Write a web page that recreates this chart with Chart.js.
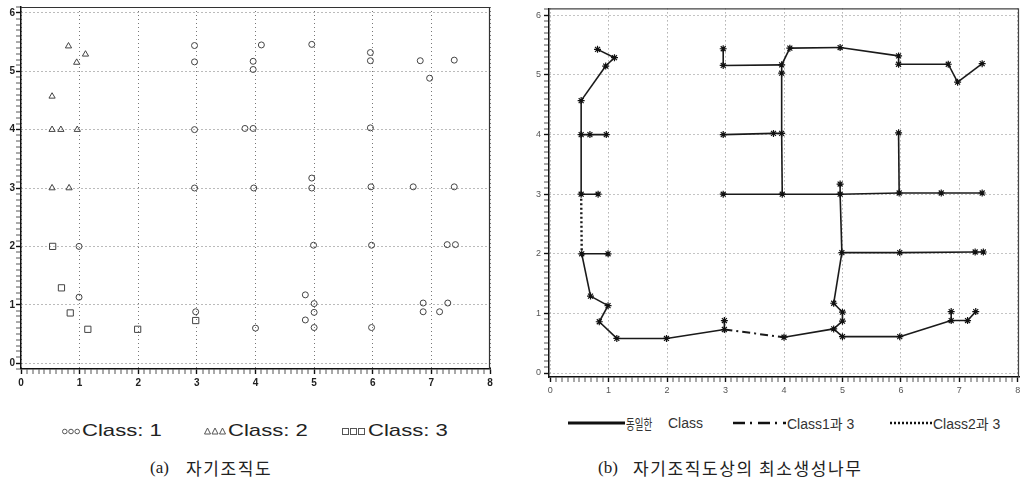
<!DOCTYPE html>
<html><head><meta charset="utf-8">
<script src="https://cdn.jsdelivr.net/npm/chart.js@4.4.1/dist/chart.umd.min.js"></script>
<style>
html,body{margin:0;padding:0;background:#fff;width:1026px;height:487px;overflow:hidden;position:relative;font-family:"Liberation Sans",Arial,sans-serif;}
canvas{position:absolute;}
#ca{left:0;top:0;}
#cb{left:520px;top:0;}
.it{position:absolute;height:18px;line-height:18px;white-space:nowrap;color:#222;display:flex;align-items:center;}
.it svg{display:block;margin-right:2px;}
.wide{display:inline-block;transform:scaleX(1.3);transform-origin:left center;font-size:17px;}
.lt{position:absolute;height:18px;line-height:18px;white-space:nowrap;color:#333;font-size:14px;}
.ko{font-family:"Noto Sans CJK KR",sans-serif;}
.nar{display:inline-block;transform:scaleX(0.68);transform-origin:left center;}
.cap{position:absolute;top:457px;height:22px;line-height:22px;white-space:nowrap;color:#222;font-size:17px;}
.cap .p{font-family:"Liberation Serif","DejaVu Serif",serif;}
.cap .k{font-family:"Noto Sans CJK KR",sans-serif;letter-spacing:1.6px;}
</style></head><body>
<canvas id="ca" width="500" height="395"></canvas>
<canvas id="cb" width="506" height="400"></canvas>

<div class="it" style="left:62px;top:422px;">
  <svg width="18" height="9"><circle cx="2.8" cy="4.5" r="2.3" fill="none" stroke="#555" stroke-width="1"/><circle cx="9" cy="4.5" r="2.3" fill="none" stroke="#555" stroke-width="1"/><circle cx="15.2" cy="4.5" r="2.3" fill="none" stroke="#555" stroke-width="1"/></svg>
  <span class="wide">Class: 1</span>
</div>
<div class="it" style="left:204px;top:422px;">
  <svg width="22" height="9"><polygon points="3.5,1 6.5,7 0.5,7" fill="none" stroke="#555" stroke-width="1"/><polygon points="11,1 14,7 8,7" fill="none" stroke="#555" stroke-width="1"/><polygon points="18.5,1 21.5,7 15.5,7" fill="none" stroke="#555" stroke-width="1"/></svg>
  <span class="wide">Class: 2</span>
</div>
<div class="it" style="left:342px;top:422px;">
  <svg width="24" height="9"><rect x="0.5" y="1.5" width="6" height="6" fill="none" stroke="#555" stroke-width="1"/><rect x="8.5" y="1.5" width="6" height="6" fill="none" stroke="#555" stroke-width="1"/><rect x="16.5" y="1.5" width="6" height="6" fill="none" stroke="#555" stroke-width="1"/></svg>
  <span class="wide">Class: 3</span>
</div>

<svg style="position:absolute;left:560px;top:414px;" width="440" height="18">
  <line x1="8" y1="9" x2="65" y2="9" stroke="#111" stroke-width="3"/>
  <line x1="173" y1="9" x2="226" y2="9" stroke="#111" stroke-width="2.5" stroke-dasharray="12,5,2,6"/>
  <line x1="330" y1="9" x2="372" y2="9" stroke="#111" stroke-width="2.5" stroke-dasharray="2,2"/>
</svg>
<div class="lt" style="left:626px;top:414px;"><span class="ko nar">동일한</span></div>
<div class="lt" style="left:668px;top:414px;">Class</div>
<div class="lt" style="left:787px;top:414px;">Class1<span class="ko">과</span> 3</div>
<div class="lt" style="left:933px;top:414px;">Class2<span class="ko">과</span> 3</div>

<div class="cap" style="left:150px;"><span class="p">(a)</span></div>
<div class="cap" style="left:186px;"><span class="k">자기조직도</span></div>
<div class="cap" style="left:598px;"><span class="p">(b)</span></div>
<div class="cap" style="left:633px;"><span class="k">자기조직도상의 최소생성나무</span></div>

<script>
// ---- data ----
const xTickLabels = [0, 1, 2, 3, 4, 5, 6, 7, 8];
const yTickLabels = [0, 1, 2, 3, 4, 5, 6];
const classNames = ['Class: 1', 'Class: 2', 'Class: 3'];
const edgeKindNames = ['동일한 Class', 'Class1과 3', 'Class2과 3'];

// SOM nodes (map coordinates) and their class
const nodeX = [0.81, 1.10, 0.95, 0.53, 0.53, 0.68, 0.96, 0.53, 0.82,
               0.54, 0.99, 0.69, 0.99, 0.84, 1.14, 1.99, 2.98, 2.98,
               4.00, 4.85, 5.00, 5.00, 5.00, 4.85, 4.99, 5.98, 7.27, 7.41,
               5.98, 6.86, 6.86, 7.14, 7.28,
               2.96, 3.97, 4.96, 4.96, 5.97, 6.69, 7.39, 5.96,
               2.96, 3.82, 3.96,
               2.96, 2.96, 3.96, 4.10, 4.96, 5.96, 5.96, 6.81, 6.97, 7.39, 3.96];
const nodeY = [5.43, 5.29, 5.15, 4.57, 4.00, 4.00, 4.00, 3.00, 3.00,
               2.00, 2.00, 1.29, 1.13, 0.86, 0.58, 0.58, 0.73, 0.88,
               0.60, 0.74, 0.61, 0.87, 1.02, 1.17, 2.02, 2.02, 2.03, 2.03,
               0.61, 0.88, 1.03, 0.88, 1.03,
               3.00, 3.00, 3.00, 3.17, 3.02, 3.02, 3.02, 4.03,
               4.00, 4.02, 4.02,
               5.16, 5.44, 5.17, 5.45, 5.46, 5.32, 5.18, 5.18, 4.88, 5.19, 5.03];
const nodeClass = [2, 2, 2, 2, 2, 2, 2, 2, 2,
                   3, 1, 3, 1, 3, 3, 3, 3, 1,
                   1, 1, 1, 1, 1, 1, 1, 1, 1, 1,
                   1, 1, 1, 1, 1,
                   1, 1, 1, 1, 1, 1, 1, 1,
                   1, 1, 1,
                   1, 1, 1, 1, 1, 1, 1, 1, 1, 1, 1];

// minimum spanning tree edges (node index pairs) and edge kind
const edgeFrom = [0, 1, 2, 3, 4, 5, 4, 7,
                  9, 9, 11, 12, 13, 14, 15, 16,
                  18, 19, 19, 21, 22, 23, 20, 28, 29, 29, 31,
                  24, 25, 26, 24,
                  33, 34, 35, 35, 37, 38, 37,
                  41, 42, 46, 54, 43,
                  44, 44, 46, 47, 48, 49, 50, 51, 52,
                  7, 16];
const edgeTo   = [1, 2, 3, 4, 5, 6, 7, 8,
                  10, 11, 12, 13, 14, 15, 16, 17,
                  19, 20, 21, 22, 23, 24, 28, 29, 30, 31, 32,
                  25, 26, 27, 35,
                  34, 35, 36, 37, 38, 39, 40,
                  42, 43, 54, 43, 34,
                  45, 46, 47, 48, 49, 50, 51, 52, 53,
                  9, 18];
const edgeKind = [0, 0, 0, 0, 0, 0, 0, 0,
                  0, 0, 0, 0, 0, 0, 0, 0,
                  0, 0, 0, 0, 0, 0, 0, 0, 0, 0, 0,
                  0, 0, 0, 0,
                  0, 0, 0, 0, 0, 0, 0,
                  0, 0, 0, 0, 0,
                  0, 0, 0, 0, 0, 0, 0, 0, 0,
                  2, 1];

// ---- helpers ----
Chart.defaults.font.family = '"Liberation Sans", Arial, sans-serif';
const isMajor = v => Math.abs(v - Math.round(v)) < 1e-6;
const isTenth = v => Math.abs(v * 10 - Math.round(v * 10)) < 1e-6;

function makeAxis(o) {
  return {
    type: 'linear', min: o.min, max: o.max,
    afterFit: s => { if (o.horizontal) s.height = o.size; else s.width = o.size; },
    ticks: {
      stepSize: 0.1, autoSkip: false, includeBounds: false, maxRotation: 0, minRotation: 0, padding: o.pad,
      color: o.labelColor, font: { size: o.fontSize, weight: o.fontWeight },
      callback: v => (isMajor(v) && o.labels.includes(Math.round(v))) ? String(Math.round(v)) : ''
    },
    grid: {
      color: o.gridColor,
      lineWidth: c => (c.tick && isMajor(c.tick.value) && o.labels.includes(Math.round(c.tick.value))) ? 1 : 0,
      drawTicks: true, tickLength: o.tickLen,
      tickColor: c => !c.tick ? '#111' : (isMajor(c.tick.value) ? '#111' : (isTenth(c.tick.value) ? '#555' : 'rgba(0,0,0,0)')),
      tickWidth: c => (c.tick && isMajor(c.tick.value)) ? 1.4 : 1
    },
    border: { display: true, color: '#111', width: 1.5, dash: [1, 3] }
  };
}

const framePlugin = {
  id: 'frame',
  afterDraw(chart, args, opts) {
    const a = chart.chartArea, c = chart.ctx;
    c.save();
    c.strokeStyle = opts.color; c.lineWidth = opts.width;
    c.beginPath();
    c.moveTo(a.left, a.top + 0.5);
    c.lineTo(a.right - 0.5, a.top + 0.5);
    c.lineTo(a.right - 0.5, a.bottom);
    c.stroke();
    c.restore();
  }
};

// ---- chart (a) ----
const markerStyles = ['circle', 'triangle', 'rect'];
const markerRadius = [3, 3.6, 4.4];
const classSets = classNames.map((name, k) => ({
  label: name,
  data: nodeX.map((x, i) => ({ x, y: nodeY[i], c: nodeClass[i] }))
             .filter(p => p.c === k + 1).map(p => ({ x: p.x, y: p.y })),
  pointStyle: markerStyles[k],
  pointRadius: markerRadius[k],
  pointHoverRadius: markerRadius[k],
  borderColor: '#444',
  backgroundColor: 'rgba(0,0,0,0)',
  borderWidth: 1
}));

new Chart(document.getElementById('ca'), {
  type: 'scatter',
  data: { datasets: classSets },
  plugins: [framePlugin],
  options: {
    responsive: false, animation: false, events: [],
    layout: { padding: { top: 7, right: 10, left: 0, bottom: 0 } },
    plugins: { legend: { display: false }, tooltip: { enabled: false }, frame: { color: '#333', width: 1.2 } },
    scales: {
      x: makeAxis({ min: 0, max: 8, labels: xTickLabels, horizontal: true, size: 26, pad: 3, tickLen: 5,
                    fontSize: 10, fontWeight: 'bold', labelColor: '#222', gridColor: '#777' }),
      y: makeAxis({ min: -0.1, max: 6.1, labels: yTickLabels, horizontal: false, size: 21, pad: 1, tickLen: 5,
                    fontSize: 10, fontWeight: 'bold', labelColor: '#222', gridColor: '#777' })
    }
  }
});

// ---- chart (b) ----
const edgeStyles = [
  { borderWidth: 1.6, borderDash: [] },
  { borderWidth: 2, borderDash: [8, 4, 2, 4] },
  { borderWidth: 2.4, borderDash: [2, 2.5] }
];
const nodeSet = {
  label: 'nodes',
  data: nodeX.map((x, i) => ({ x, y: nodeY[i] })),
  showLine: false,
  pointStyle: 'star', pointRadius: 3.5, pointHoverRadius: 3.5,
  borderColor: '#111', backgroundColor: '#111', borderWidth: 1.2
};
const edgeSets = edgeFrom.map((f, i) => ({
  label: edgeKindNames[edgeKind[i]],
  data: [{ x: nodeX[f], y: nodeY[f] }, { x: nodeX[edgeTo[i]], y: nodeY[edgeTo[i]] }],
  showLine: true, pointRadius: 0, pointHoverRadius: 0,
  borderColor: '#1a1a1a', backgroundColor: '#1a1a1a', tension: 0, fill: false,
  ...edgeStyles[edgeKind[i]]
}));

new Chart(document.getElementById('cb'), {
  type: 'scatter',
  data: { datasets: [nodeSet, ...edgeSets] },
  plugins: [framePlugin],
  options: {
    responsive: false, animation: false, events: [],
    layout: { padding: { top: 7, right: 7, left: 0, bottom: 0 } },
    plugins: { legend: { display: false }, tooltip: { enabled: false }, frame: { color: '#444', width: 1.2 } },
    scales: {
      x: makeAxis({ min: -0.02, max: 8.02, labels: xTickLabels, horizontal: true, size: 23, pad: 3, tickLen: 5,
                    fontSize: 9, fontWeight: 'normal', labelColor: '#555', gridColor: '#888' }),
      y: makeAxis({ min: -0.067, max: 6.117, labels: yTickLabels, horizontal: false, size: 29, pad: 3, tickLen: 5,
                    fontSize: 9, fontWeight: 'normal', labelColor: '#555', gridColor: '#888' })
    }
  }
});
</script>
</body></html>
